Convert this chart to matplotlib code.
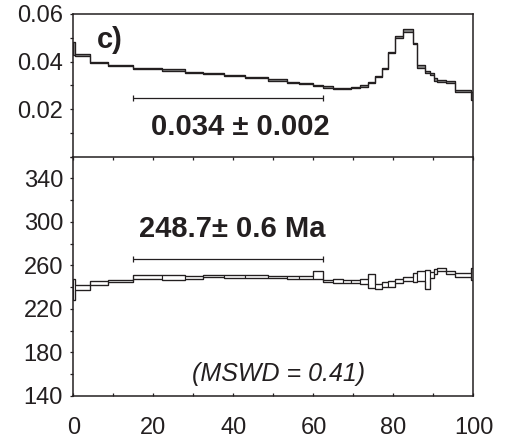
import numpy as np
import matplotlib
matplotlib.use("Agg")
import matplotlib.pyplot as plt
from matplotlib.ticker import MultipleLocator

plt.rcParams['font.family'] = ['Liberation Sans', 'DejaVu Sans']

# Step boundaries (% 39Ar released)
step_edges = [0, 0.4, 4.1, 8.75, 14.8, 22.2, 28.0, 32.4, 37.6, 42.9, 48.6, 53.3,
              56.3, 59.8, 62.3, 65.0, 67.4, 69.5, 71.7, 73.7, 75.3, 77.1, 78.7,
              80.4, 82.4, 84.8, 85.9, 87.8, 89.1, 90.1, 91.0, 93.1, 95.3, 99.4, 100]

# Upper panel: ratio per step and its error
ratio_values = [0.0455, 0.0427, 0.0396, 0.0384, 0.0371, 0.0364, 0.0354, 0.0348,
                0.0340, 0.0331, 0.0322, 0.0313, 0.0307, 0.0299, 0.0293, 0.0287,
                0.0286, 0.0290, 0.0297, 0.0313, 0.0338, 0.0369, 0.0437, 0.0505,
                0.0530, 0.0477, 0.0378, 0.0357, 0.0348, 0.0323, 0.0317, 0.0314,
                0.0275, 0.0255]
ratio_errors = [0.0028, 0.00025, 0.00025, 0.00025, 0.00025, 0.00025, 0.00025, 0.00025,
                0.00025, 0.00025, 0.00025, 0.00025, 0.00025, 0.00025, 0.00025, 0.00025,
                0.00025, 0.00025, 0.00025, 0.00025, 0.00025, 0.00025, 0.00025, 0.0004,
                0.0006, 0.0003, 0.0007, 0.0004, 0.0004, 0.0006, 0.0004, 0.0003,
                0.0003, 0.0017]

# Lower panel: apparent age (Ma) per step and its error
age_values = [238.0, 239.8, 243.8, 245.5, 249.3, 248.9, 249.0, 250.0, 249.8, 249.8,
              249.5, 249.0, 248.6, 251.3, 245.8, 245.9, 245.5, 245.5, 245.3, 245.5,
              241.0, 242.2, 243.0, 245.4, 247.2, 248.7, 250.2, 247.3, 251.0, 254.1,
              256.2, 253.4, 251.4, 252.2]
age_errors = [9.5, 2.0, 1.4, 1.0, 1.5, 2.5, 1.2, 1.0, 1.0, 1.0,
              1.1, 1.3, 1.5, 3.5, 1.2, 1.8, 1.3, 1.5, 2.3, 6.2,
              2.3, 2.2, 2.6, 2.0, 1.9, 3.9, 4.5, 8.8, 2.6, 2.3,
              1.7, 1.3, 1.8, 5.5]

plateau_range = [14.8, 62.3]
ratio_mean_label = "0.034 ± 0.002"
plateau_age_label = "248.7± 0.6 Ma"
mswd_label = "(MSWD = 0.41)"

ink = '#231f20'

fig = plt.figure(figsize=(5.05, 4.43), dpi=100)
L, R = 0.1455, 0.9376
top_b, mid, bot = 0.9684, 0.6467, 0.1061
ax_top = fig.add_axes([L, mid, R - L, top_b - mid])
ax_bot = fig.add_axes([L, bot, R - L, mid - bot])
ax_top.set_zorder(2)
ax_top.patch.set_visible(False)


def draw_spectrum(ax, vals, errs, face):
    vals = np.asarray(vals)
    errs = np.asarray(errs)
    edges = np.asarray(step_edges)
    ax.bar(edges[:-1], 2 * errs, width=np.diff(edges), bottom=vals - errs,
           align='edge', facecolor=face, edgecolor=ink, linewidth=0.8, zorder=2)
    ax.stairs(vals + errs, edges, baseline=None, color=ink, linewidth=0.9, zorder=3)
    ax.stairs(vals - errs, edges, baseline=None, color=ink, linewidth=0.9, zorder=3)


draw_spectrum(ax_top, ratio_values, ratio_errors, '#8c8c8c')
draw_spectrum(ax_bot, age_values, age_errors, 'white')

for ax in (ax_top, ax_bot):
    ax.set_xlim(0, 100)
    for s in ax.spines.values():
        s.set_linewidth(1.1)
        s.set_color(ink)
    ax.tick_params(axis='y', which='both', direction='out', length=2.5, width=0.9,
                   colors=ink, labelsize=17, pad=5)
    ax.tick_params(axis='x', which='both', length=2.5, width=0.9, colors=ink)
    ax.xaxis.set_major_locator(MultipleLocator(20))
    ax.xaxis.set_minor_locator(MultipleLocator(10))

ax_top.set_ylim(0, 0.06)
ax_top.set_yticks([0.02, 0.04, 0.06])
ax_top.set_yticklabels(['0.02', '0.04', '0.06'])
ax_top.yaxis.set_minor_locator(MultipleLocator(0.01))
ax_top.tick_params(axis='x', which='both', direction='out', labelbottom=False)

ax_bot.set_ylim(140, 360)
ax_bot.set_yticks([140, 180, 220, 260, 300, 340])
ax_bot.yaxis.set_minor_locator(MultipleLocator(20))
ax_bot.tick_params(axis='x', which='both', direction='in', labelsize=17, pad=15)
ax_bot.spines['top'].set_visible(False)

mid_x = sum(plateau_range) / 2
half_w = (plateau_range[1] - plateau_range[0]) / 2

ax_top.errorbar([mid_x], [0.0247], xerr=[half_w], fmt='none', ecolor=ink,
                elinewidth=0.9, capsize=2.2, capthick=0.9)
ax_bot.errorbar([mid_x], [265.6], xerr=[half_w], fmt='none', ecolor=ink,
                elinewidth=0.9, capsize=2.2, capthick=0.9)

ax_top.text(5.9, 0.0455, 'c)', fontsize=21, fontweight='bold', color=ink,
            ha='left', va='baseline')
ax_top.text(41.6, 0.0090, ratio_mean_label, fontsize=21, fontweight='bold',
            color=ink, ha='center', va='baseline')
ax_bot.text(39.6, 286, plateau_age_label, fontsize=21, fontweight='bold',
            color=ink, ha='center', va='baseline')
ax_bot.text(51.2, 153.8, mswd_label, fontsize=18, fontstyle='italic',
            color=ink, ha='center', va='baseline')

fig.savefig('out.png', dpi=100)
